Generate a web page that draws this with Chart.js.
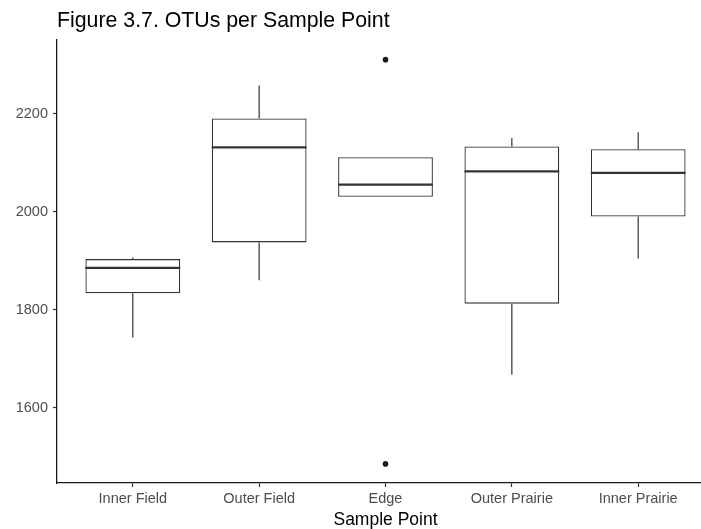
<!DOCTYPE html>
<html>
<head>
<meta charset="utf-8">
<title>OTUs per Sample Point</title>
<script src="https://cdn.jsdelivr.net/npm/chart.js@4/dist/chart.umd.min.js"></script>
<style>
  html, body { margin: 0; padding: 0; background: #ffffff; overflow: hidden; }
  #wrap { width: 701px; height: 529px; overflow: hidden; }
  #chart { display: block; }
</style>
</head>
<body>
<div id="wrap"><canvas id="chart" width="718" height="529"></canvas></div>
<script>
// Sample points along the field-to-prairie transect
const categories = ['Inner Field', 'Outer Field', 'Edge', 'Outer Prairie', 'Inner Prairie'];

// Five-number summaries of OTU counts per sample point
const whiskerLow  = [1743, 1860, 2030, 1667, 1904];
const lowerQuart  = [1833, 1937, 2030, 1812, 1990];
const medians     = [1885, 2131, 2055, 2082, 2079];
const upperQuart  = [1903, 2190, 2111, 2133, 2127];
const whiskerHigh = [1906, 2257, 2111, 2150, 2162];

// Points beyond the whiskers, per sample point
const outliers = [[], [], [2310, 1485], [], []];

// Value axis labels
const yTicks = [1600, 1800, 2000, 2200];

const FONT = '"Liberation Sans", Arial, Helvetica, sans-serif';
const LINE = '#333333';

// Boxes as floating bars on a numeric x axis (positions 1..5)
const boxData = categories.map((c, i) => ({ x: i + 1, y: [lowerQuart[i], upperQuart[i]] }));
const outlierData = [];
outliers.forEach((vals, i) => vals.forEach(v => outlierData.push({ x: i + 1, y: v })));

// Whiskers go under the boxes, medians on top of them
const boxplotParts = {
  id: 'boxplotParts',
  beforeDatasetsDraw(chart) {
    const { ctx, scales: { x, y } } = chart;
    ctx.save();
    ctx.strokeStyle = LINE;
    ctx.lineWidth = 1.2;
    categories.forEach((c, i) => {
      const px = x.getPixelForValue(i + 1);
      ctx.beginPath();
      ctx.moveTo(px, y.getPixelForValue(upperQuart[i]));
      ctx.lineTo(px, y.getPixelForValue(whiskerHigh[i]));
      ctx.moveTo(px, y.getPixelForValue(lowerQuart[i]));
      ctx.lineTo(px, y.getPixelForValue(whiskerLow[i]));
      ctx.stroke();
    });
    ctx.restore();
  },
  afterDatasetsDraw(chart) {
    const { ctx, scales: { y } } = chart;
    const bars = chart.getDatasetMeta(0).data;
    ctx.save();
    ctx.strokeStyle = LINE;
    ctx.lineWidth = 2.4;
    bars.forEach((bar, i) => {
      const half = bar.width / 2;
      const py = y.getPixelForValue(medians[i]);
      ctx.beginPath();
      ctx.moveTo(bar.x - half, py);
      ctx.lineTo(bar.x + half, py);
      ctx.stroke();
    });
    ctx.restore();
  }
};

new Chart(document.getElementById('chart'), {
  type: 'bar',
  data: {
    datasets: [
      {
        type: 'bar',
        data: boxData,
        backgroundColor: '#ffffff',
        borderColor: LINE,
        borderWidth: 1.3,
        borderSkipped: false,
        categoryPercentage: 1,
        barPercentage: 0.75,
        order: 2
      },
      {
        type: 'scatter',
        data: outlierData,
        backgroundColor: '#1a1a1a',
        borderColor: '#1a1a1a',
        pointRadius: 2.8,
        pointBorderWidth: 0,
        order: 1
      }
    ]
  },
  options: {
    responsive: false,
    animation: false,
    devicePixelRatio: 1,
    layout: { padding: 0 },
    plugins: {
      legend: { display: false },
      tooltip: { enabled: false },
      title: {
        display: true,
        text: 'Figure 3.7. OTUs per Sample Point',
        align: 'start',
        fullSize: false,
        color: '#000000',
        font: { family: FONT, size: 21.3, weight: 'normal', lineHeight: 1.2 },
        padding: { top: 8, bottom: 6 }
      }
    },
    scales: {
      x: {
        type: 'linear',
        min: 0.4,
        max: 5.6,
        offset: false,
        afterBuildTicks(scale) {
          scale.ticks = categories.map((c, i) => ({ value: i + 1 }));
        },
        afterFit(scale) {
          scale.height = 46;
        },
        grid: {
          display: true,
          offset: false,
          drawOnChartArea: false,
          drawTicks: true,
          tickLength: 4,
          tickColor: LINE,
          tickWidth: 1.2
        },
        border: { display: true, color: '#1a1a1a', width: 1.3 },
        ticks: {
          color: '#4d4d4d',
          font: { family: FONT, size: 14.5 },
          padding: 3,
          maxRotation: 0,
          autoSkip: false,
          callback: (v) => categories[Math.round(v) - 1] ?? ''
        },
        title: {
          display: true,
          text: 'Sample Point',
          color: '#000000',
          font: { family: FONT, size: 17.5 },
          padding: { top: 0, bottom: -2 }
        }
      },
      y: {
        type: 'linear',
        min: 1446,
        max: 2351,
        afterBuildTicks(scale) {
          scale.ticks = yTicks.map(v => ({ value: v }));
        },
        afterFit(scale) {
          scale.width = 57;
        },
        grid: {
          display: true,
          drawOnChartArea: false,
          drawTicks: true,
          tickLength: 4,
          tickColor: LINE,
          tickWidth: 1.2
        },
        border: { display: true, color: '#1a1a1a', width: 1.3 },
        ticks: {
          color: '#4d4d4d',
          font: { family: FONT, size: 14.5 },
          padding: 5,
          callback: (v) => String(v)
        }
      }
    }
  },
  plugins: [boxplotParts]
});
</script>
</body>
</html>
